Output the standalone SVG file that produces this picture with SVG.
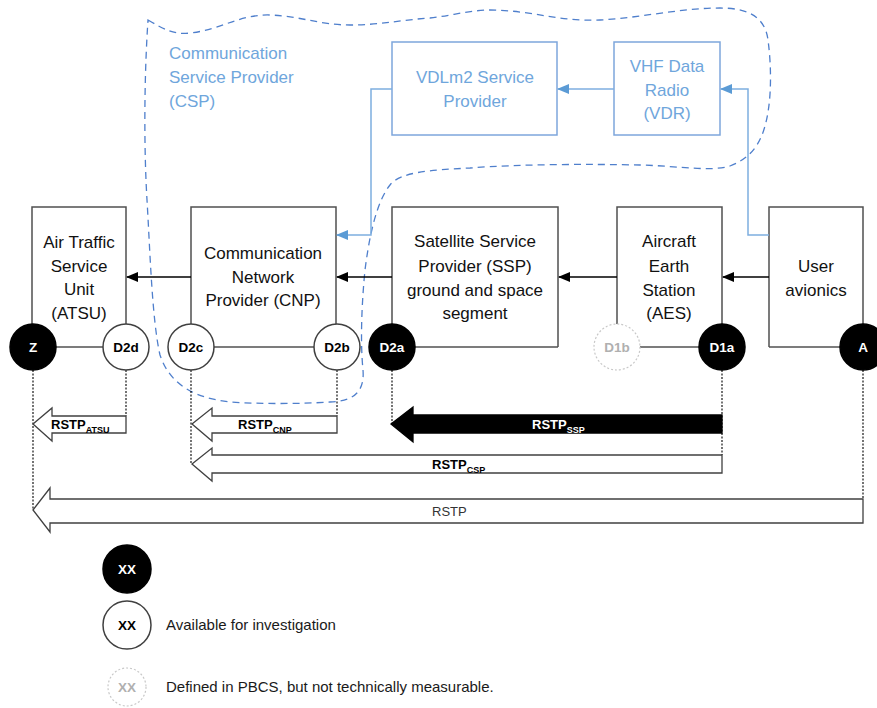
<svg xmlns="http://www.w3.org/2000/svg" width="877" height="708" viewBox="0 0 877 708">
<defs>
<marker id="ah" markerWidth="12" markerHeight="10" refX="11" refY="5" orient="auto" markerUnits="userSpaceOnUse">
<path d="M0,0 L12,5 L0,10 Z" fill="#000"/>
</marker>
<marker id="ahb" markerWidth="12" markerHeight="10" refX="11" refY="5" orient="auto" markerUnits="userSpaceOnUse">
<path d="M0,0 L12,5 L0,10 Z" fill="#5b9bd5"/>
</marker>
</defs>
<style>
text{font-family:"Liberation Sans",Arial,sans-serif;}
.box{fill:#fff;stroke:#505050;stroke-width:1.5;}
.bbox{fill:#fff;stroke:#7ea6dc;stroke-width:1.5;}
.t{font-size:17px;fill:#111;text-anchor:middle;}
.tb{font-size:17px;fill:#6fa6dc;text-anchor:middle;}
.con{stroke:#000;stroke-width:1.3;fill:none;}
.bcon{stroke:#7eaee0;stroke-width:1.5;fill:none;}
.base{stroke:#505050;stroke-width:1.5;fill:none;}
.dot{stroke:#000;stroke-width:1.1;stroke-dasharray:2,1.5;fill:none;}
.cb{fill:#000;stroke:#000;stroke-width:1.5;}
.cw{fill:#fff;stroke:#404040;stroke-width:1.5;}
.cg{fill:#fff;stroke:#c8c8c8;stroke-width:1.2;stroke-dasharray:2,2;}
.lw{font-size:13.5px;font-weight:bold;fill:#fff;text-anchor:middle;}
.lk{font-size:13.5px;font-weight:bold;fill:#000;text-anchor:middle;}
.lg{font-size:13.5px;font-weight:bold;fill:#b0b0b0;text-anchor:middle;}
.blk{fill:#fff;stroke:#404040;stroke-width:1.3;}
.blkb{fill:#000;stroke:#000;stroke-width:1.3;}
.rs{font-size:13px;font-weight:bold;fill:#000;}
.sub{font-size:9px;font-weight:bold;}
.leg{font-size:15px;fill:#1a1a1a;}
</style>

<g id="csp-region">
<path d="M148,20 C165,30 175,35 190,33 C220,30 240,14 270,15 C300,16 320,25 350,25 C380,25 400,20 430,18 C450,16 470,10 490,10 C530,10 560,22 600,20 C640,18 680,8 720,8 C745,8 765,15 768,40 C772,70 772,110 762,135 C755,152 745,160 730,166 C710,172 680,166 640,165 C590,164 520,164 470,168 C430,170 400,172 390,185 C378,200 370,230 365,270 C362,300 360,340 363,370 C365,395 350,401 330,402 C300,404 260,404 230,402 C195,398 170,385 160,355 C152,320 150,250 147,200 C144,150 144,80 148,20 Z" fill="none" stroke="#4f7fcc" stroke-width="1.3" stroke-dasharray="7,5"/>
<text x="169" y="59" font-size="17" fill="#6fa6dc">Communication</text>
<text x="169" y="83" font-size="17" fill="#6fa6dc">Service Provider</text>
<text x="169" y="107" font-size="17" fill="#6fa6dc">(CSP)</text>
</g>

<g id="vdlm2">
<rect class="bbox" x="392" y="42" width="165" height="93"/>
<text class="tb" x="475" y="83">VDLm2 Service</text>
<text class="tb" x="475" y="107">Provider</text>
</g>
<g id="vdr">
<rect class="bbox" x="614" y="42" width="106" height="93"/>
<text class="tb" x="667" y="72">VHF Data</text>
<text class="tb" x="667" y="96">Radio</text>
<text class="tb" x="667" y="119">(VDR)</text>
</g>

<g id="atsu">
<path class="box" d="M32,347 V207 H126 V347"/>
<text class="t" x="79" y="248">Air Traffic</text>
<text class="t" x="79" y="272">Service</text>
<text class="t" x="79" y="295">Unit</text>
<text class="t" x="79" y="319">(ATSU)</text>
</g>
<g id="cnp">
<path class="box" d="M191,347 V207 H336 V347"/>
<text class="t" x="263" y="259">Communication</text>
<text class="t" x="263" y="283">Network</text>
<text class="t" x="263" y="306">Provider (CNP)</text>
</g>
<g id="ssp">
<path class="box" d="M392,347 V207 H558 V347"/>
<text class="t" x="475" y="247">Satellite Service</text>
<text class="t" x="475" y="272">Provider (SSP)</text>
<text class="t" x="475" y="296">ground and space</text>
<text class="t" x="475" y="319">segment</text>
</g>
<g id="aes">
<path class="box" d="M617,347 V207 H722 V347"/>
<text class="t" x="669" y="247">Aircraft</text>
<text class="t" x="669" y="272">Earth</text>
<text class="t" x="669" y="296">Station</text>
<text class="t" x="669" y="319">(AES)</text>
</g>
<g id="user">
<path class="box" d="M769,347 V207 H863 V347"/>
<text class="t" x="816" y="272">User</text>
<text class="t" x="816" y="296">avionics</text>
</g>

<g id="connectors">
<line class="base" x1="32" y1="347" x2="126" y2="347"/>
<line class="base" x1="191" y1="347" x2="336" y2="347"/>
<line class="base" x1="392" y1="347" x2="558" y2="347"/>
<line class="base" x1="617" y1="347" x2="722" y2="347"/>
<line class="base" x1="769" y1="347" x2="863" y2="347"/>
<line class="con" x1="191" y1="277" x2="127" y2="277" marker-end="url(#ah)"/>
<line class="con" x1="392" y1="277" x2="337" y2="277" marker-end="url(#ah)"/>
<line class="con" x1="617" y1="277" x2="559" y2="277" marker-end="url(#ah)"/>
<line class="con" x1="769" y1="277" x2="723" y2="277" marker-end="url(#ah)"/>
<path class="bcon" d="M614,89 H558" marker-end="url(#ahb)"/>
<path class="bcon" d="M769,235 H748 V89 H721" marker-end="url(#ahb)"/>
<path class="bcon" d="M392,89 H371 V235 H337" marker-end="url(#ahb)"/>
<line class="dot" x1="33" y1="370" x2="33" y2="510"/>
<line class="dot" x1="126" y1="370" x2="126" y2="416"/>
<line class="dot" x1="191" y1="370" x2="191" y2="464"/>
<line class="dot" x1="337" y1="370" x2="337" y2="416"/>
<line class="dot" x1="392" y1="370" x2="392" y2="424"/>
<line class="dot" x1="722" y1="370" x2="722" y2="455"/>
<line class="dot" x1="863" y1="370" x2="863" y2="499"/>
</g>

<g id="points">
<circle class="cb" cx="33" cy="347" r="23"/><text class="lw" x="33" y="352">Z</text>
<circle class="cw" cx="126" cy="347" r="23"/><text class="lk" x="126" y="352">D2d</text>
<circle class="cw" cx="191" cy="347" r="23"/><text class="lk" x="191" y="352">D2c</text>
<circle class="cw" cx="337" cy="347" r="23"/><text class="lk" x="337" y="352">D2b</text>
<circle class="cb" cx="392" cy="347" r="23"/><text class="lw" x="392" y="352">D2a</text>
<circle class="cg" cx="617" cy="347" r="23"/><text class="lg" x="617" y="352">D1b</text>
<circle class="cb" cx="722" cy="347" r="23"/><text class="lw" x="722" y="352">D1a</text>
<circle class="cb" cx="863" cy="347" r="23"/><text class="lw" x="863" y="352">A</text>
</g>

<g id="rstp-atsu">
<polygon class="blk" points="33,424 52,408 52,416 126,416 126,433 52,433 52,441"/>
<text class="rs" x="51" y="429">RSTP<tspan class="sub" dy="4">ATSU</tspan></text>
</g>
<g id="rstp-cnp">
<polygon class="blk" points="192,424 212,408 212,416 337,416 337,433 212,433 212,441"/>
<text class="rs" x="238" y="429">RSTP<tspan class="sub" dy="4">CNP</tspan></text>
</g>
<g id="rstp-ssp">
<polygon class="blkb" points="391,424 413,407 413,415 722,415 722,433 413,433 413,442"/>
<text class="rs" x="532" y="429" style="fill:#fff">RSTP<tspan class="sub" dy="4">SSP</tspan></text>
</g>
<g id="rstp-csp">
<polygon class="blk" points="192,464 212,448 212,455 722,455 722,473 212,473 212,481"/>
<text class="rs" x="432" y="469">RSTP<tspan class="sub" dy="4">CSP</tspan></text>
</g>
<g id="rstp">
<polygon class="blk" points="33,510 50,488 50,499 863,499 863,523 50,523 50,532"/>
<text x="432" y="516" font-size="13" fill="#333">RSTP</text>
</g>

<g id="legend">
<circle class="cb" cx="127" cy="569" r="24"/><text class="lw" x="127" y="574">XX</text>
<circle class="cw" cx="127" cy="625" r="24"/><text class="lk" x="127" y="630">XX</text>
<text class="leg" x="166" y="630">Available for investigation</text>
<circle class="cg" cx="127" cy="687" r="19"/><text class="lg" x="127" y="692">XX</text>
<text class="leg" x="166" y="692">Defined in PBCS, but not technically measurable.</text>
</g>
</svg>
